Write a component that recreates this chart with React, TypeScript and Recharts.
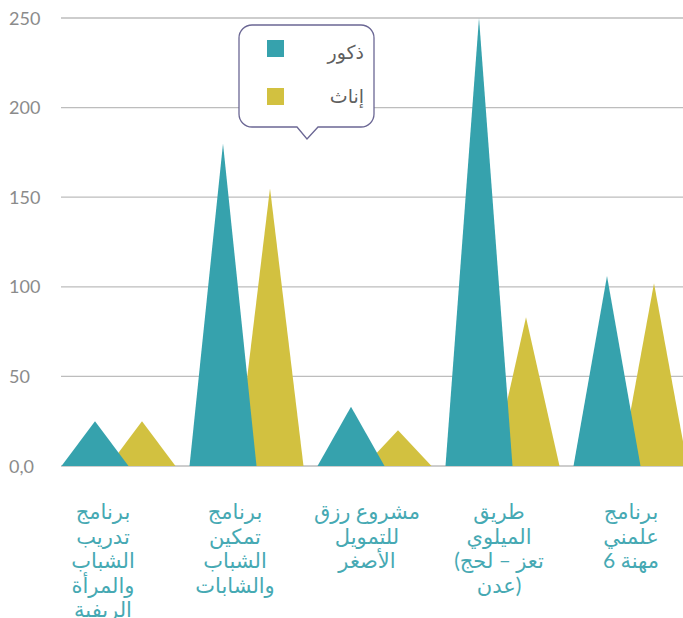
import React from 'react';
import { BarChart, Bar, XAxis, YAxis, CartesianGrid, Legend } from 'recharts';

// category labels, one entry per line as they wrap under the axis
const labelLines: string[][] = [
  ['برنامج', 'تدريب', 'الشباب', 'والمرأة', 'الريفية'],
  ['برنامج', 'تمكين', 'الشباب', 'والشابات'],
  ['مشروع رزق', 'للتمويل', 'الأصغر'],
  ['طريق', 'الميلوي', '(تعز – لحج', 'عدن)'],
  ['برنامج', 'علمني', 'مهنة 6'],
];
const categories = labelLines.map((l) => l.join(' '));
const males = [25, 180, 33, 250, 106];
const females = [25, 155, 20, 83, 102];
const yTicks = [0, 50, 100, 150, 200, 250];

const data = categories.map((name, i) => ({ name, males: males[i], females: females[i] }));

const TEAL = '#36a2ad';
const YELLOW = '#d2c140';

const Triangle = (props: any) => {
  const { x, y, width, height, fill } = props;
  if (!height) return null;
  return <path d={`M${x},${y + height}L${x + width / 2},${y}L${x + width},${y + height}Z`} fill={fill} />;
};

const YTick = ({ y, payload }: any) => (
  <text x={9} y={y} dy={6.5} fill="#8b8b8b" fontSize={18} fontFamily="Lato, sans-serif">
    {payload.value === 0 ? '0,0' : payload.value}
  </text>
);

// lines are laid out left-to-right like the original export (LRM keeps brackets unmirrored)
const XTick = ({ x, y, payload }: any) => {
  const lines = labelLines[categories.indexOf(payload.value)] || [];
  return (
    <text x={x} y={y} textAnchor="middle" direction="ltr" fill="#46a9b3" fontSize={21} fontFamily="Lato, 'DejaVu Sans', sans-serif">
      {lines.map((l, i) => (
        <tspan key={i} x={x} dy={i === 0 ? 23 : 24.5}>
          {'\u200E' + l + '\u200E'}
        </tspan>
      ))}
    </text>
  );
};

const LegendBubble = () => (
  <svg width={140} height={120} style={{ display: 'block' }}>
    <path
      d="M14,2H123A13,13 0 0 1 136,15V91A13,13 0 0 1 123,104H80L69,116L59,104H14A13,13 0 0 1 1,91V15A13,13 0 0 1 14,2Z"
      fill="#fff"
      stroke="#6b6794"
      strokeWidth={1.3}
    />
    <rect x={29} y={17} width={17} height={17} fill={TEAL} />
    <rect x={29} y={65} width={17} height={17} fill={YELLOW} />
    <text x={126} y={36} textAnchor="end" fill="#5f5f5f" fontSize={19} fontFamily="Lato, 'DejaVu Sans', sans-serif">
      ذكور
    </text>
    <text x={126} y={80} textAnchor="end" fill="#5f5f5f" fontSize={19} fontFamily="Lato, 'DejaVu Sans', sans-serif">
      إناث
    </text>
  </svg>
);

export default function App() {
  return (
    <div style={{ position: 'absolute', left: 0, top: 0, width: 683, height: 618, overflow: 'hidden', background: '#fff' }}>
      <BarChart width={718} height={618} data={data} margin={{ top: 18, right: 0, bottom: 0, left: 0 }}>
        <CartesianGrid xAxisId="m" x={61} width={622} vertical={false} stroke="#bdbdbd" strokeWidth={1.3} />
        <XAxis
          xAxisId="labels"
          dataKey="name"
          height={152}
          padding={{ left: 7, right: 21 }}
          axisLine={false}
          tickLine={false}
          tickSize={0}
          tickMargin={0}
          interval={0}
          tick={<XTick />}
        />
        <XAxis xAxisId="m" dataKey="name" hide padding={{ left: 0.5, right: 47.5 }} />
        <XAxis xAxisId="f" dataKey="name" hide padding={{ left: 47.5, right: 0.5 }} />
        <YAxis width={30} domain={[0, 250]} ticks={yTicks} axisLine={false} tickLine={false} tick={<YTick />} />
        <Legend
          layout="horizontal"
          verticalAlign="middle"
          align="center"
          wrapperStyle={{ left: 238, top: 23, width: 140, height: 120 }}
          content={() => <LegendBubble />}
        />
        <Bar xAxisId="f" dataKey="females" name="إناث" fill={YELLOW} barSize={67} shape={<Triangle />} isAnimationActive={false} />
        <Bar xAxisId="m" dataKey="males" name="ذكور" fill={TEAL} barSize={67} shape={<Triangle />} isAnimationActive={false} />
      </BarChart>
    </div>
  );
}
